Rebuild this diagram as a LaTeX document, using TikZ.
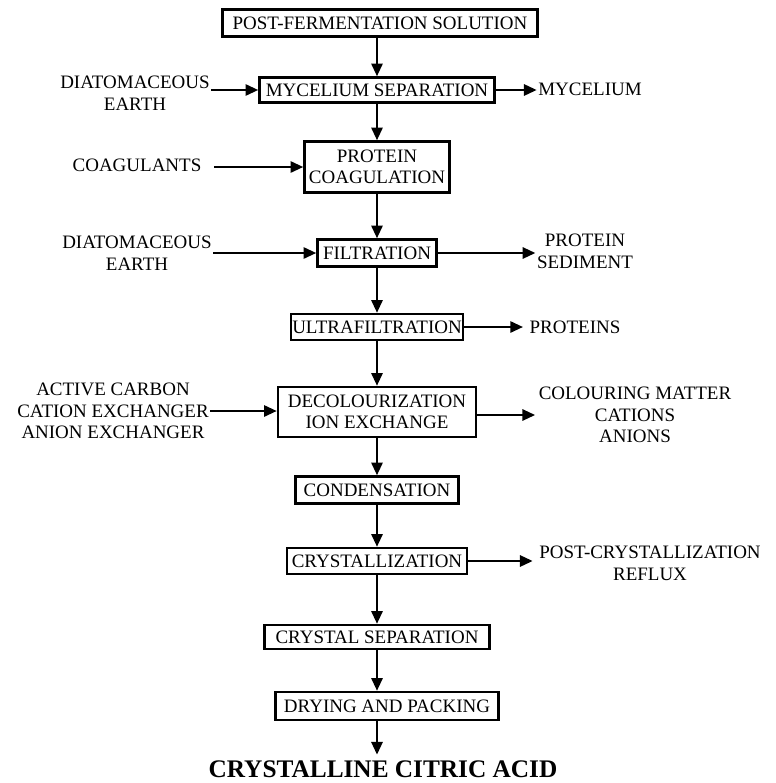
\documentclass[tikz,border=0pt]{standalone}
\usepackage{fontspec}
\setmainfont{Liberation Serif}
\usepackage{tikz}
\usetikzlibrary{arrows.meta, positioning, calc}
\tikzset{
  stage/.style={draw, line width=1.8pt, inner sep=1pt, align=center,
                font=\fontsize{13.5}{15}\selectfont},
  side/.style={inner sep=1pt, align=center, font=\fontsize{13.5}{15.5}\selectfont},
  flow/.style={line width=1.5pt, -{Triangle[length=9pt, width=8pt]}}
}

\begin{document}
\begin{tikzpicture}[x=0.025cm, y=-0.025cm]
  \useasboundingbox (0,0) rectangle (776,783);

  % main line of process steps
  \node[stage, minimum width=7.875cm, minimum height=0.675cm] (pfs) at (380, 23) {POST-FERMENTATION SOLUTION};
  \node[stage, minimum width=5.875cm, minimum height=0.625cm] (msep) at (377, 90) {MYCELIUM SEPARATION};
  \node[stage, minimum width=3.625cm, minimum height=1.275cm] (pcoag) at (377, 167) {PROTEIN\\COAGULATION};
  \node[stage, minimum width=2.975cm, minimum height=0.675cm] (filt) at (377, 253) {FILTRATION};
  \node[stage, minimum width=3.3cm, minimum height=0.65cm] (uf) at (377, 327) {ULTRAFILTRATION};
  \node[stage, minimum width=4.95cm, minimum height=1.25cm] (dec) at (377, 412) {DECOLOURIZATION\\ION EXCHANGE};
  \node[stage, minimum width=4.075cm, minimum height=0.675cm] (cond) at (377, 490) {CONDENSATION};
  \node[stage, minimum width=4.5cm, minimum height=0.65cm] (cryst) at (377, 561) {CRYSTALLIZATION};
  \node[stage, minimum width=5.625cm, minimum height=0.6cm] (csep) at (377, 637) {CRYSTAL SEPARATION};
  \node[stage, minimum width=5.575cm, minimum height=0.7cm] (dry) at (387, 706) {DRYING AND PACKING};
  \node[font=\fontsize{18}{20}\selectfont\bfseries, inner sep=1pt] (cca) at (383, 769) {CRYSTALLINE CITRIC ACID};

  % inputs and outputs
  \node[side] (dia1) at (135, 93) {DIATOMACEOUS\\EARTH};
  \node[side] (myc) at (590, 89) {MYCELIUM};
  \node[side] (coag) at (137, 165) {COAGULANTS};
  \node[side] (dia2) at (137, 253) {DIATOMACEOUS\\EARTH};
  \node[side] (psed) at (585, 251) {PROTEIN\\SEDIMENT};
  \node[side] (prot) at (575, 327) {PROTEINS};
  \node[side] (acc) at (113, 411) {ACTIVE CARBON\\CATION EXCHANGER\\ANION EXCHANGER};
  \node[side] (colm) at (635, 415) {COLOURING MATTER\\CATIONS\\ANIONS};
  \node[side] (pcr) at (650, 563) {POST-CRYSTALLIZATION\\REFLUX};

  \draw[flow] (pfs.south -| msep) -- (msep);
  \foreach \a/\b in {msep/pcoag, pcoag/filt, filt/uf, uf/dec, dec/cond, cond/cryst, cryst/csep}
    \draw[flow] (\a) -- (\b);
  \draw[flow] (csep) -- (csep.south |- dry.north);
  \draw[flow, shorten >=3pt] (dry.south -| csep) -- (cca.north -| csep);

  \draw[flow] (dia1.east |- msep.west) -- (msep.west);
  \draw[flow] (msep.east) -- (myc.west |- msep.east);
  \draw[flow, shorten <=8pt] (coag.east |- pcoag.west) -- (pcoag.west);
  \draw[flow] (dia2.east |- filt.west) -- (filt.west);
  \draw[flow] (filt.east) -- (psed.west |- filt.east);
  \draw[flow] (uf.east) -- ($(prot.west |- uf.east)+(-5,0)$);
  \draw[flow] (acc.east) -- (acc.east -| dec.west);
  \draw[flow] (dec.east |- colm.west) -- ($(colm.west)+(-2,0)$);
  \draw[flow] (cryst.east) -- ($(pcr.west |- cryst.east)+(-5,0)$);
\end{tikzpicture}
\end{document}
